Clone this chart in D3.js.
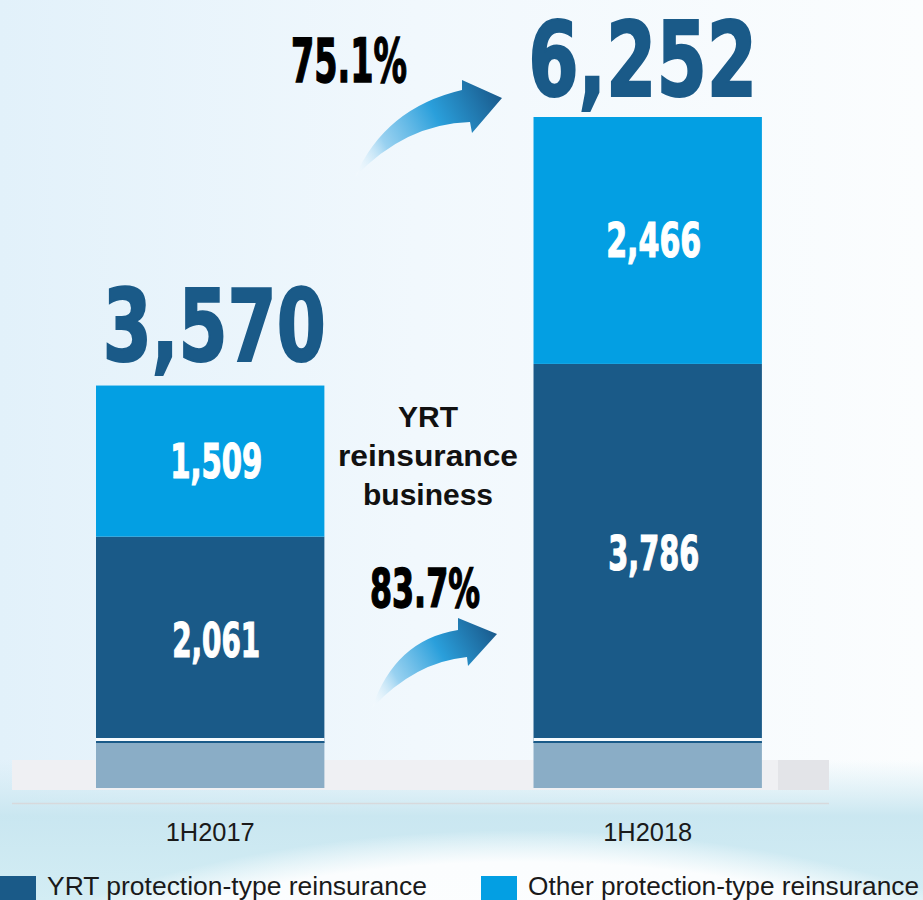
<!DOCTYPE html>
<html>
<head>
<meta charset="utf-8">
<script src="https://cdn.jsdelivr.net/npm/d3@7/dist/d3.min.js"></script>
<style>
  html, body { margin: 0; padding: 0; background: #f4f9fd; }
  svg { display: block; }
</style>
</head>
<body>
<div id="chart"></div>
<script>
// ---------------- data ----------------
const categories = ["1H2017", "1H2018"];
const yrtValues = [2061, 3786];
const otherValues = [1509, 2466];
const totals = [3570, 6252];
const growthLabels = ["75.1%", "83.7%"];
const seriesNames = ["YRT protection-type reinsurance", "Other protection-type reinsurance"];
const noteLines = ["YRT", "reinsurance", "business"];

// ---------------- layout ----------------
const W = 923, H = 900;
const colDark = "#1a5a88", colLight = "#039fe3", colPed = "#8aadc6";
const bigFont = "'Liberation Sans Narrow','DejaVu Sans Condensed','Roboto Condensed',Impact,sans-serif";
const sansFont = "'Liberation Sans',Arial,Helvetica,sans-serif";

const svg = d3.select("#chart").append("svg").attr("width", W).attr("height", H);
const defs = svg.append("defs");

// background gradients
const bg = defs.append("linearGradient").attr("id", "bg").attr("x1", 0).attr("y1", 0).attr("x2", 1).attr("y2", 0);
bg.append("stop").attr("offset", 0).attr("stop-color", "#e2f1fa");
bg.append("stop").attr("offset", 0.45).attr("stop-color", "#f1f8fd");
bg.append("stop").attr("offset", 1).attr("stop-color", "#fbfdfe");
svg.append("rect").attr("width", W).attr("height", H).attr("fill", "url(#bg)");

const bot = defs.append("linearGradient").attr("id", "bot").attr("x1", 0).attr("y1", 0).attr("x2", 0).attr("y2", 1);
bot.append("stop").attr("offset", 0).attr("stop-color", "#cfe9f2").attr("stop-opacity", 0);
bot.append("stop").attr("offset", 0.4).attr("stop-color", "#c8e6f0").attr("stop-opacity", 0.95);
bot.append("stop").attr("offset", 1).attr("stop-color", "#d3edf4").attr("stop-opacity", 1);
svg.append("rect").attr("x", 0).attr("y", 760).attr("width", W).attr("height", 140).attr("fill", "url(#bot)");

const dome = defs.append("radialGradient").attr("id", "dome").attr("cx", 0.5).attr("cy", 0.5).attr("r", 0.5);
dome.append("stop").attr("offset", 0).attr("stop-color", "#ffffff").attr("stop-opacity", 1);
dome.append("stop").attr("offset", 0.9).attr("stop-color", "#fbfdfe").attr("stop-opacity", 1);
dome.append("stop").attr("offset", 1).attr("stop-color", "#ffffff").attr("stop-opacity", 0);
svg.append("ellipse").attr("cx", 520).attr("cy", 1150).attr("rx", 700).attr("ry", 320).attr("fill", "url(#dome)");

// ---------------- scales ----------------
const x = d3.scaleBand().domain(categories).range([8.5, 849.4]).paddingInner(0.478).paddingOuter(0.2);
const y = d3.scaleLinear().domain([0, 6252]).range([743, 117]);
const bw = x.bandwidth();

// base band (grey platform)
svg.append("rect").attr("x", 12).attr("y", 760).attr("width", 766).attr("height", 30).attr("fill", "#eff0f3");
svg.append("rect").attr("x", 778).attr("y", 760).attr("width", 51).attr("height", 30).attr("fill", "#e3e4e8");
svg.append("line").attr("x1", 12).attr("x2", 829).attr("y1", 803.5).attr("y2", 803.5)
  .attr("stroke", "#d7d9dc").attr("stroke-width", 1.5);

// ---------------- stacked bars ----------------
const stackData = categories.map((c, i) => ({ cat: c, yrt: yrtValues[i], other: otherValues[i] }));
const stack = d3.stack().keys(["yrt", "other"])(stackData);
const colors = { yrt: colDark, other: colLight };

const layers = svg.append("g").selectAll("g").data(stack).join("g").attr("fill", d => colors[d.key]);
layers.selectAll("rect").data(d => d).join("rect")
  .attr("x", d => x(d.data.cat))
  .attr("y", d => y(d[1]))
  .attr("width", bw)
  .attr("height", d => y(d[0]) - y(d[1]));

// pedestal below bars
const ped = svg.append("g").selectAll("g").data(categories).join("g");
ped.append("rect").attr("x", d => x(d)).attr("y", 738).attr("width", bw).attr("height", 4).attr("fill", "#f7fbfe");
ped.append("rect").attr("x", d => x(d)).attr("y", 741).attr("width", bw).attr("height", 2).attr("fill", colDark);
ped.append("rect").attr("x", d => x(d)).attr("y", 743).attr("width", bw).attr("height", 45).attr("fill", colPed);

// segment labels (white)
const segLen = { "1,509": 92, "2,061": 88, "2,466": 95, "3,786": 91 };
stack.forEach(layer => {
  svg.append("g").selectAll("text").data(layer).join("text")
    .attr("x", d => x(d.data.cat) + bw / 2 + 6)
    .attr("y", d => (y(d[0]) + y(d[1])) / 2 + 17)
    .attr("text-anchor", "middle")
    .attr("fill", "#ffffff")
    .attr("stroke", "#ffffff")
    .attr("stroke-width", 1.2)
    .attr("font-family", bigFont)
    .attr("font-weight", "bold")
    .attr("font-size", 48)
    .attr("lengthAdjust", "spacingAndGlyphs")
    .attr("textLength", d => segLen[d3.format(",")(d[1] - d[0])])
    .text(d => d3.format(",")(d[1] - d[0]));
});

// totals above bars
const totSize = [100, 103], totLen = [223, 229], totGap = [25, 21];
svg.append("g").selectAll("text").data(totals).join("text")
  .attr("x", (d, i) => x(categories[i]) + bw / 2 + (i === 0 ? 4 : -5))
  .attr("y", (d, i) => y(d) - totGap[i])
  .attr("text-anchor", "middle")
  .attr("fill", colDark)
  .attr("stroke", colDark)
  .attr("stroke-width", 2)
  .attr("font-family", bigFont)
  .attr("font-weight", "bold")
  .attr("font-size", (d, i) => totSize[i])
  .attr("lengthAdjust", "spacingAndGlyphs")
  .attr("textLength", (d, i) => totLen[i])
  .text(d => d3.format(",")(d));

// ---------------- growth arrows ----------------
function arrowGrad(id, x1, y1, x2, y2) {
  const g = defs.append("linearGradient").attr("id", id).attr("gradientUnits", "userSpaceOnUse")
    .attr("x1", x1).attr("y1", y1).attr("x2", x2).attr("y2", y2);
  g.append("stop").attr("offset", 0).attr("stop-color", "#ffffff").attr("stop-opacity", 0.2);
  g.append("stop").attr("offset", 0.25).attr("stop-color", "#8fcdef").attr("stop-opacity", 0.9);
  g.append("stop").attr("offset", 0.6).attr("stop-color", "#2a9fdb");
  g.append("stop").attr("offset", 1).attr("stop-color", "#1a5a8c");
}
arrowGrad("ag1", 355, 176, 502, 98);
arrowGrad("ag2", 372, 707, 497, 634);
svg.append("path").attr("fill", "url(#ag1)")
  .attr("d", "M355,177 Q385,108 462,90 L462,80 L502,98 L472,133 L470,122 Q405,124 355,177 Z");
svg.append("path").attr("fill", "url(#ag2)")
  .attr("d", "M372,708 Q395,640 458,630 L458,618 L497,634 L468,666 L467,657 Q415,662 372,708 Z");

// growth percentages
const gPos = [[349, 82, 61, 116], [425, 607, 53, 110]];
svg.append("g").selectAll("text").data(growthLabels).join("text")
  .attr("x", (d, i) => gPos[i][0])
  .attr("y", (d, i) => gPos[i][1])
  .attr("text-anchor", "middle")
  .attr("fill", "#000")
  .attr("stroke", "#000")
  .attr("stroke-width", 1.4)
  .attr("font-family", bigFont)
  .attr("font-weight", "bold")
  .attr("font-size", (d, i) => gPos[i][2])
  .attr("lengthAdjust", "spacingAndGlyphs")
  .attr("textLength", (d, i) => gPos[i][3])
  .text(d => d);

// note text
const noteLen = [60, 180, 130];
svg.append("g").selectAll("text").data(noteLines).join("text")
  .attr("x", 428)
  .attr("y", (d, i) => 427 + i * 39)
  .attr("text-anchor", "middle")
  .attr("fill", "#111")
  .attr("font-family", sansFont)
  .attr("font-weight", "bold")
  .attr("font-size", 30)
  .attr("lengthAdjust", "spacingAndGlyphs")
  .attr("textLength", (d, i) => noteLen[i])
  .text(d => d);

// ---------------- x axis ----------------
const xAxis = svg.append("g").attr("transform", "translate(0,810)")
  .call(d3.axisBottom(x).tickSize(0).tickPadding(8));
xAxis.select(".domain").remove();
xAxis.selectAll("text")
  .attr("font-family", sansFont)
  .attr("font-size", 25)
  .attr("fill", "#1a1a1a")
  .attr("lengthAdjust", "spacingAndGlyphs")
  .attr("textLength", 89)
  .attr("dy", "0.9em");

// ---------------- legend ----------------
const legX = [0, 481], legLen = [380, 391];
const leg = svg.append("g").selectAll("g").data(seriesNames).join("g")
  .attr("transform", (d, i) => `translate(${legX[i]},876)`);
leg.append("rect").attr("width", 36).attr("height", 26).attr("fill", (d, i) => i === 0 ? colDark : colLight);
leg.append("text").attr("x", 47).attr("y", 19)
  .attr("font-family", sansFont).attr("font-size", 25).attr("fill", "#1a1a1a")
  .attr("lengthAdjust", "spacingAndGlyphs")
  .attr("textLength", (d, i) => legLen[i])
  .text(d => d);
</script>
</body>
</html>
